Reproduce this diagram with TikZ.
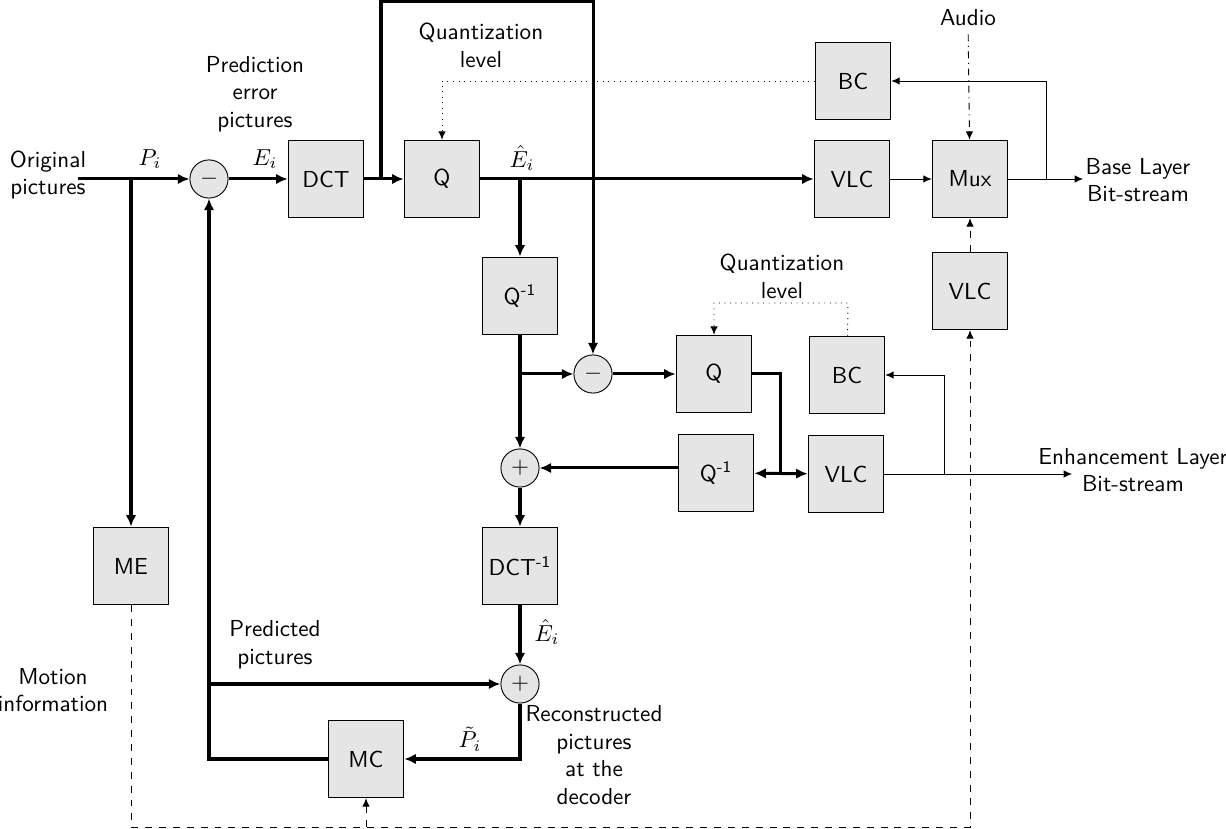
\documentclass[tikz,border=0pt]{standalone}
\usepackage{tikz}
\usetikzlibrary{arrows.meta}
\renewcommand{\familydefault}{\sfdefault}

\begin{document}
\begin{tikzpicture}[x=0.0152cm, y=-0.0152cm,
		blk/.style={draw, fill=black!10, minimum width=1.15cm, minimum height=1.18cm, inner sep=0pt},
		sum/.style={circle, draw, fill=black!10, minimum size=0.58cm, inner sep=0pt},
		txt/.style={align=center, inner sep=1pt},
		lbl/.style={inner sep=0.5pt},
		busline/.style={line width=1.3pt},
		bus/.style={busline, -{Latex[length=5pt, width=4.5pt]}},
		sig/.style={-{Latex[length=3.6pt, width=3.2pt]}}
	]
					\useasboundingbox (0,0) rectangle (1226,829);

					% blocks
					\node[sum] (sub1) at (209,179) {$-$};
					\node[blk] (dct) at (326,179) {DCT};
					\node[blk] (q) at (442,179) {Q};
					\node[blk] (qinv) at (520,296) {Q\textsuperscript{-1}};
					\node[sum] (sub2) at (593,374) {$-$};
					\node[blk] (qe) at (714,374) {Q};
					\node[blk] (bce) at (847,375) {BC};
					\node[blk] (qinve) at (716,473) {Q\textsuperscript{-1}};
					\node[blk] (vlce) at (846,474) {VLC};
					\node[sum] (add1) at (520,468) {$+$};
					\node[blk] (idct) at (520,566) {DCT\textsuperscript{-1}};
					\node[sum] (add2) at (520,684) {$+$};
					\node[blk] (mc) at (366,759) {MC};
					\node[blk] (me) at (131,566) {ME};
					\node[blk] (bc) at (853,81) {BC};
					\node[blk] (vlc) at (852,179) {VLC};
					\node[blk] (mux) at (970,179) {Mux};
					\node[blk] (vlc2) at (970,291) {VLC};

					% texts
					\node[txt] (orig) at (48,175) {Original\\pictures};
					\node[lbl] (pi) at (150,159) {$P_i$};
					\node[lbl] (ei) at (265,159) {$E_i$};
					\node[txt] (prederr) at (255,94) {Prediction\\error\\pictures};
					\node[txt] (qlev) at (481,45) {Quantization\\level};
					\node[lbl] (ehat) at (522,158) {$\hat{E}_i$};
					\node (audio) at (968,18) {Audio};
					\node[txt] (base) at (1138,180) {Base Layer\\Bit-stream};
					\node[txt] (qleve) at (782,276) {Quantization\\level};
					\node[txt] (enh) at (1133,470) {Enhancement Layer\\Bit-stream};
					\node[lbl] (ehat2) at (547,632) {$\hat{E}_i$};
					\node[txt] (pred) at (275,645) {Predicted\\pictures};
					\node[txt] (motion) at (53,690) {Motion\\information};
					\node[lbl] (ptil) at (470,739) {$\tilde{P}_i$};
					\node[txt] (recon) at (594,755) {Reconstructed\\pictures\\at the\\decoder};

					% corner points
					\coordinate (in) at (78,179);
					\coordinate (tap) at (131,179);
					\coordinate (fb) at (381,179);
					\coordinate (fbtop) at (381,2);
					\coordinate (eq) at (520,179);
					\coordinate (split) at (520,374);
					\coordinate (bend) at (780,474);
					\coordinate (pleft) at (209,684);
					\coordinate (bout) at (1083,179);
					\coordinate (bctap) at (1046,179);
					\coordinate (eout) at (1072,474);
					\coordinate (etap) at (944,474);
					\coordinate (dq) at (848,303);
					\coordinate (dbot) at (970,827);

					% base layer loop
					\draw[bus] (in) -- (sub1);
					\draw[bus] (tap) -- (me);
					\draw[bus] (sub1) -- (dct);
					\draw[bus] (dct) -- (q);
					\draw[bus] (fb) -- (fbtop) -| (sub2);
					\draw[bus] (q) -- (vlc);
					\draw[bus] (eq) -- (qinv);
					\draw[bus] (qinv) -- (add1);
					\draw[bus] (split) -- (sub2);
					\draw[bus] (sub2) -- (qe);
					\draw[busline] (qe) -| (bend);
					\draw[busline, {Latex[length=5pt, width=4.5pt]}-{Latex[length=5pt, width=4.5pt]}] (qinve) -- (vlce);
					\draw[bus] (qinve.west |- add1) -- (add1);
					\draw[bus] (add1) -- (idct);
					\draw[bus] (idct) -- (add2);
					\draw[bus] (add2) |- (mc);
					\draw[bus] (mc) -| (sub1);
					\draw[bus] (pleft) -- (add2);

					% thin signals
					\draw[sig] (vlc) -- (mux);
					\draw[sig] (mux) -- (bout);
					\draw[sig] (bctap) |- (bc);
					\draw[sig, dotted] (bc) -| (q);
					\draw[sig, dash dot] (audio) -- (mux);
					\draw[sig, dashed] (vlc2) -- (mux);
					\draw[sig, dashed] (me) |- (dbot) -- (vlc2);
					\draw[sig, dashed] (mc |- dbot) -- (mc);
					\draw[sig] (vlce) -- (eout);
					\draw[sig] (etap) |- (bce);
					\draw[sig, dotted] (bce) -- (dq) -| (qe);
				\end{tikzpicture}
\end{document}
